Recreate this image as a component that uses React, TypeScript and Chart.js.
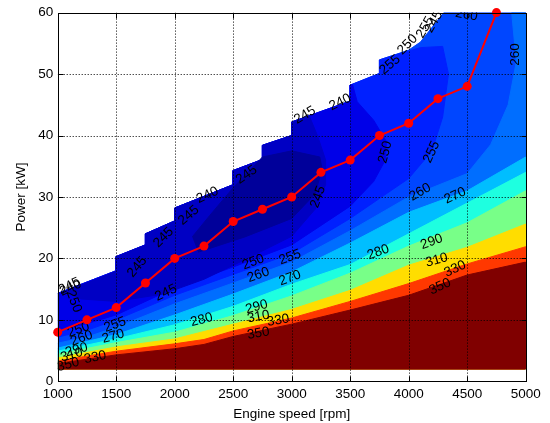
import React, { useEffect, useRef } from "react";
import { Chart, registerables } from "chart.js";

Chart.register(...registerables);

type P = [number, number];

// Operating line (optimum BSFC line)
const speedRpm = [1000, 1250, 1500, 1750, 2000, 2250, 2500, 2750, 3000, 3250, 3500, 3750, 4000, 4250, 4500, 4750];
const powerKw = [8, 10, 12, 16, 20, 22, 26, 28, 30, 34, 36, 40, 42, 46, 48, 60];

const xTickValues = [1000, 1500, 2000, 2500, 3000, 3500, 4000, 4500, 5000];
const yTickValues = [0, 10, 20, 30, 40, 50, 60];

const mapFloorKw = 2;
const mapMinRpm = 1000;
const mapMaxRpm = 5000;

// Maximum power envelope of the map (stepped upper edge)
const maxPowerEnvelope: P[] = [
  [1000, 14.3], [1500, 18.0], [1500, 20.3], [1750, 22.2], [1750, 24.0], [2000, 26.1],
  [2000, 28.2], [2500, 32.0], [2500, 34.3], [2750, 36.1], [2750, 38.4], [3000, 40.0],
  [3000, 42.2], [3500, 45.6], [3500, 48.2], [3750, 50.1], [3750, 52.3], [4000, 53.9],
  [4100, 55.2], [4300, 60], [5000, 60],
];

// Iso-BSFC contours (g/kWh), lower-power side boundaries
const iso350: P[] = [[1000, 2.9], [1250, 3.6], [1500, 4.3], [2000, 5.3], [2250, 6.0], [2500, 7.3], [3000, 9.3], [3500, 11.6], [4000, 14.0], [4500, 17.3], [5000, 19.4]];
const iso330: P[] = [[1000, 3.3], [1500, 4.9], [2000, 6.1], [2250, 6.8], [2500, 8.2], [3000, 10.3], [3500, 13.0], [4000, 15.9], [4500, 19.1], [5000, 21.9]];
const iso310: P[] = [[1000, 3.8], [1500, 5.6], [2000, 6.9], [2500, 9.3], [3000, 11.7], [3500, 14.8], [4000, 18.9], [4500, 21.8], [5000, 25.6]];
const iso290: P[] = [[1000, 4.4], [1500, 6.3], [2000, 8.0], [2500, 10.7], [3000, 13.9], [3500, 17.6], [4000, 22.0], [4500, 25.8], [5000, 31.0]];
const iso280: P[] = [[1000, 4.9], [1500, 6.9], [2000, 9.2], [2500, 12.2], [3000, 15.8], [3500, 19.0], [4000, 24.0], [4500, 29.0], [5000, 34.0]];
const iso270: P[] = [[1000, 5.4], [1500, 7.6], [2000, 10.8], [2500, 14.2], [3000, 17.8], [3500, 22.5], [4000, 27.5], [4500, 31.0], [5000, 36.5]];
const iso260: P[] = [[1000, 6.2], [1250, 7.2], [1500, 8.8], [2000, 12.6], [2500, 16.0], [3000, 19.4], [3500, 24.5], [4000, 30.0], [4500, 33.8], [4700, 38.5], [4850, 45], [4920, 52], [4880, 60]];
const iso255: P[] = [[1000, 7.2], [1250, 8.3], [1500, 10.0], [2000, 14.0], [2500, 17.4], [3000, 20.8], [3500, 26.5], [4000, 33.0], [4200, 37.5], [4290, 43], [4340, 50], [4290, 54.5], [4100, 54.3], [3900, 53.2], [3780, 52.5]];
const iso250: P[] = [[1000, 8.2], [1250, 9.4], [1500, 10.8], [2000, 15.2], [2500, 18.6], [3000, 22.2], [3500, 28.5], [3700, 32.5], [3800, 36], [3810, 39], [3700, 42.5], [3560, 45.5], [3520, 48.3]];
const iso245: P[] = [[1050, 14.6], [1200, 13.4], [1500, 13.0], [1900, 14.2], [2250, 16.6], [2600, 19.8], [3000, 23.6], [3200, 28], [3290, 32], [3290, 36], [3220, 40], [3150, 43.2]];
const iso240: P[] = [[2200, 21.0], [2600, 23.5], [3000, 26.5], [3200, 30.5], [3260, 34.5], [3240, 36.5], [3000, 37.5], [2750, 36.5], [2500, 31.5], [2300, 27], [2150, 23.5]];

const colorBelow240 = "#00009A";
const color240 = "#0000C4";
const color245 = "#0000E8";
const color250 = "#0020FF";
const color255 = "#0046FF";
const color260 = "#006EFF";
const color270 = "#00BEFF";
const color280 = "#1EFFE0";
const color290 = "#78FF88";
const color310 = "#FFDD00";
const color330 = "#FF3800";
const color350 = "#800000";

// Contour labels: text, rpm, kW, rotation (deg)
const labelText = ["245", "240", "250", "250", "260", "290", "310", "350", "330", "255", "270", "245", "245", "245", "245", "240", "245", "245", "240", "255", "250", "255", "245", "260", "260", "250", "255", "245", "260", "270", "250", "260", "255", "270", "280", "280", "290", "310", "330", "350", "290", "310", "330", "350"];
const labelRpm = [1100, 1110, 1138, 1178, 1205, 1161, 1120, 1090, 1320, 1490, 1475, 1680, 1925, 1905, 2120, 2280, 2615, 3113, 3413, 3840, 3990, 4140, 4215, 4494, 4908, 3800, 4196, 3225, 4097, 4396, 2672, 2715, 2986, 2986, 2230, 3740, 2700, 2715, 2885, 2715, 4196, 4240, 4396, 4268];
const labelKw = [15.5, 15.2, 13.0, 8.4, 7.0, 5.1, 4.3, 2.7, 3.9, 9.2, 7.3, 18.6, 14.4, 23.4, 27.0, 30.3, 33.6, 43.3, 45.4, 51.5, 54.8, 57.6, 58.5, 59.6, 53.2, 37.3, 37.3, 30.0, 30.8, 30.2, 19.4, 17.3, 20.2, 16.8, 10.0, 21.0, 12.1, 10.5, 9.9, 7.8, 22.7, 19.7, 18.3, 15.4];
const labelAngle = [-25, -25, 70, -20, -20, -15, -15, -15, -12, -20, -15, -50, -25, -45, -40, -25, -35, -30, -25, -40, -45, -60, -60, 10, -90, -75, -65, -70, -30, -25, -20, -20, -20, -20, -15, -20, -15, -10, -10, -10, -20, -15, -25, -25];

const FONT = '"Liberation Sans", Arial, Helvetica, sans-serif';

const belowCurve = (c: P[]): P[] => [...c, [mapMaxRpm, c[c.length - 1][1]], [mapMaxRpm, mapFloorKw], [mapMinRpm, mapFloorKw]];
const underEnvelope = (edge: P[]): P[] => {
  const x0 = edge[0][0];
  const x1 = edge[edge.length - 1][0];
  return [...edge, ...maxPowerEnvelope.filter((p) => p[0] >= x0 && p[0] <= x1).reverse()];
};
const envelopePolygon: P[] = [...maxPowerEnvelope, [mapMaxRpm, mapFloorKw], [mapMinRpm, mapFloorKw]];

const region = (pts: P[], color: string) => ({
  type: "line" as const,
  data: pts.map(([x, y]) => ({ x, y })),
  fill: "shape",
  backgroundColor: color,
  borderColor: color,
  borderWidth: 1,
  pointRadius: 0,
  pointHoverRadius: 0,
  tension: 0,
});

const overlayPlugin = {
  id: "mapOverlay",
  beforeDatasetDraw(chart: any, args: any) {
    if (args.index !== 0) return;
    const { ctx, chartArea: a, scales } = chart;
    const x = scales.x;
    const y = scales.y;
    ctx.save();
    ctx.beginPath();
    ctx.rect(a.left, a.top, a.right - a.left, a.bottom - a.top);
    ctx.clip();
    ctx.strokeStyle = "#000";
    ctx.lineWidth = 1;
    ctx.setLineDash([1, 2]);
    for (const t of xTickValues) {
      if (t === mapMinRpm || t === mapMaxRpm) continue;
      const px = Math.round(x.getPixelForValue(t)) + 0.5;
      ctx.beginPath();
      ctx.moveTo(px, a.top);
      ctx.lineTo(px, a.bottom);
      ctx.stroke();
    }
    for (const t of yTickValues) {
      if (t === 0 || t === 60) continue;
      const py = Math.round(y.getPixelForValue(t)) + 0.5;
      ctx.beginPath();
      ctx.moveTo(a.left, py);
      ctx.lineTo(a.right, py);
      ctx.stroke();
    }
    ctx.setLineDash([]);

    ctx.fillStyle = "#000";
    ctx.font = `13.5px ${FONT}`;
    ctx.textAlign = "center";
    ctx.textBaseline = "middle";
    for (let i = 0; i < labelText.length; i++) {
      ctx.save();
      ctx.translate(x.getPixelForValue(labelRpm[i]), y.getPixelForValue(labelKw[i]));
      ctx.rotate((labelAngle[i] * Math.PI) / 180);
      ctx.fillText(labelText[i], 0, 0);
      ctx.restore();
    }
    ctx.restore();
  },
  afterDraw(chart: any) {
    const { ctx, chartArea: a, scales } = chart;
    const x = scales.x;
    const y = scales.y;
    ctx.save();
    ctx.strokeStyle = "#000";
    ctx.lineWidth = 1;
    const L = Math.round(a.left) + 0.5;
    const R = Math.round(a.right) + 0.5;
    const T = Math.round(a.top) + 0.5;
    const B = Math.round(a.bottom) + 0.5;
    ctx.beginPath();
    for (const t of xTickValues) {
      const px = Math.round(x.getPixelForValue(t)) + 0.5;
      ctx.moveTo(px, B);
      ctx.lineTo(px, B - 5);
      ctx.moveTo(px, T);
      ctx.lineTo(px, T + 5);
    }
    for (const t of yTickValues) {
      const py = Math.round(y.getPixelForValue(t)) + 0.5;
      ctx.moveTo(L, py);
      ctx.lineTo(L + 5, py);
      ctx.moveTo(R, py);
      ctx.lineTo(R - 5, py);
    }
    ctx.stroke();
    ctx.strokeRect(L, T, R - L, B - T);
    ctx.restore();
  },
};

export default function App() {
  const canvasRef = useRef<HTMLCanvasElement | null>(null);

  useEffect(() => {
    document.body.style.margin = "0";
    const canvas = canvasRef.current;
    if (!canvas) return;

    const datasets: any[] = [
      {
        type: "line",
        data: speedRpm.map((r, i) => ({ x: r, y: powerKw[i] })),
        borderColor: "#FF0000",
        backgroundColor: "#FF0000",
        borderWidth: 2,
        pointRadius: 4.5,
        pointBorderWidth: 0,
        pointBackgroundColor: "#FF0000",
        fill: false,
        tension: 0,
        clip: false,
      },
      region(iso240, colorBelow240),
      region(underEnvelope(iso245), color240),
      region(underEnvelope(iso250), color245),
      region(underEnvelope(iso255), color250),
      region(belowCurve(iso350), color350),
      region(belowCurve(iso330), color330),
      region(belowCurve(iso310), color310),
      region(belowCurve(iso290), color290),
      region(belowCurve(iso280), color280),
      region(belowCurve(iso270), color270),
      region(belowCurve(iso260), color260),
      region(envelopePolygon, color255),
    ];

    const chart = new Chart(canvas, {
      type: "line",
      data: { datasets },
      options: {
        responsive: false,
        maintainAspectRatio: false,
        animation: false,
        events: [],
        layout: { padding: { left: 0, right: 24.3, top: 11.7, bottom: 0 } },
        plugins: {
          legend: { display: false },
          tooltip: { enabled: false },
        },
        scales: {
          x: {
            type: "linear",
            min: 1000,
            max: 5000,
            grid: { display: false, drawTicks: false },
            border: { display: false },
            ticks: {
              stepSize: 500,
              color: "#000",
              padding: 5,
              maxRotation: 0,
              autoSkip: false,
              font: { family: FONT, size: 13.5 },
              callback: (v: any) => String(v),
            },
            title: {
              display: true,
              text: "Engine speed [rpm]",
              color: "#000",
              font: { family: FONT, size: 13.5 },
              padding: { top: 0, bottom: 1 },
            },
            afterFit: (s: any) => {
              s.height = 41.7;
            },
          },
          y: {
            type: "linear",
            min: 0,
            max: 60,
            grid: { display: false, drawTicks: false },
            border: { display: false },
            ticks: {
              stepSize: 10,
              color: "#000",
              padding: 4.5,
              font: { family: FONT, size: 13.5 },
              callback: (v: any) => String(v),
            },
            title: {
              display: true,
              text: "Power [kW]",
              color: "#000",
              font: { family: FONT, size: 13.5 },
              padding: { top: 13.6, bottom: 0 },
            },
            afterFit: (s: any) => {
              s.width = 57.7;
            },
          },
        },
      } as any,
      plugins: [overlayPlugin],
    });

    return () => chart.destroy();
  }, []);

  return (
    <div style={{ width: 550, height: 423 }}>
      <canvas ref={canvasRef} width={550} height={423} style={{ display: "block" }} />
    </div>
  );
}
